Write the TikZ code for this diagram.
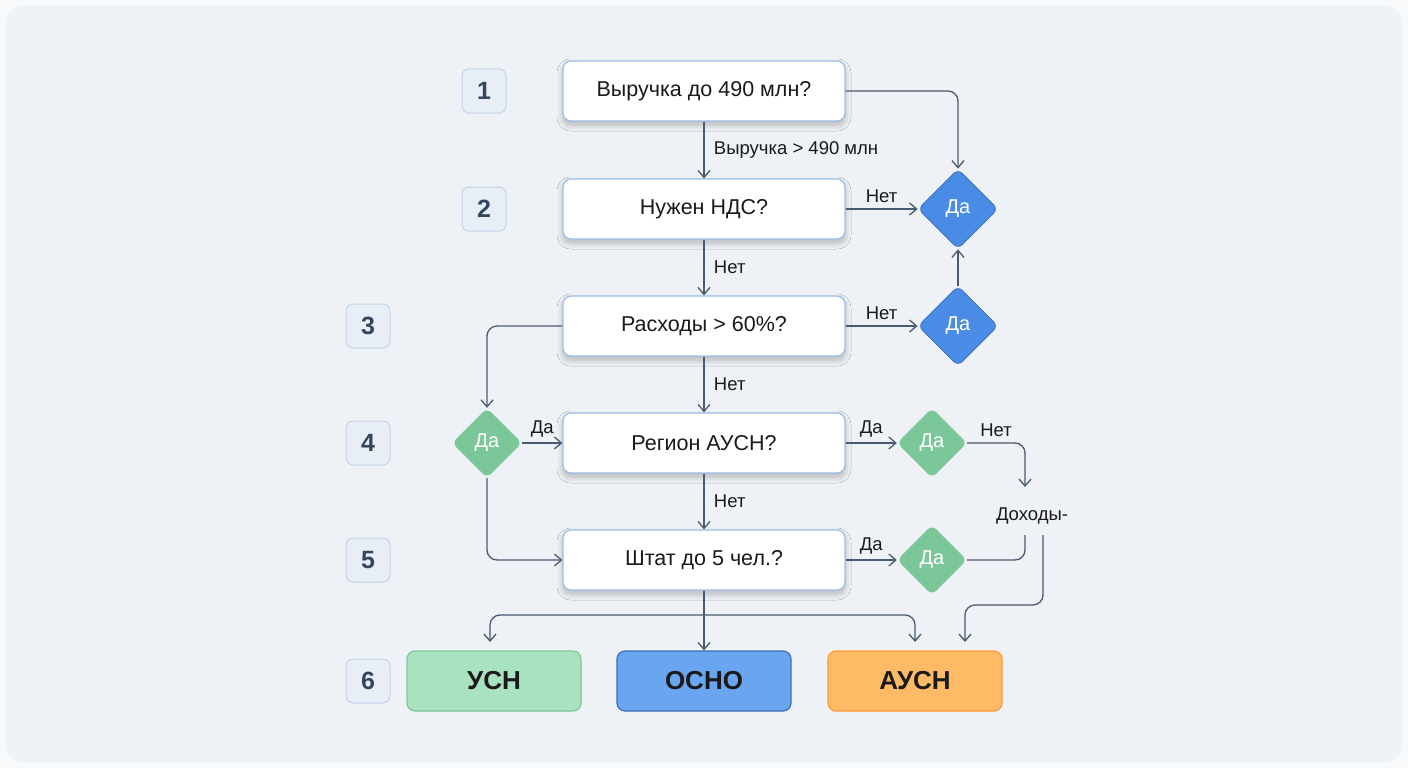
\documentclass[tikz,border=0pt]{standalone}
\usepackage{fontspec}
\setmainfont{Liberation Sans}
\usetikzlibrary{shapes.geometric,arrows.meta,shadows.blur}
\definecolor{bg}{HTML}{EEF1F5}
\definecolor{ln}{HTML}{4A5A70}
\definecolor{bb}{HTML}{9BBCE6}
\definecolor{bd}{HTML}{4A8BE6}
\definecolor{gd}{HTML}{7CC79A}
\definecolor{tx}{HTML}{1A1A1A}
\definecolor{badge}{HTML}{E8EEF6}
\definecolor{badgeb}{HTML}{C5D5EA}
\definecolor{num}{HTML}{34465E}
\definecolor{usn}{HTML}{A8E2BE}
\definecolor{osno}{HTML}{6AA5F0}
\definecolor{ausn}{HTML}{FFBA66}
\begin{document}
\begin{tikzpicture}[x=1pt,y=-1pt,
  box/.style={draw=bb,line width=1.2pt,fill=white,rounded corners=8pt,minimum width=282pt,minimum height=60pt,font=\fontsize{21.5}{24}\selectfont,text=tx,blur shadow={shadow blur steps=10,shadow xshift=0pt,shadow yshift=-4pt,shadow opacity=25,shadow blur radius=6pt}},
  num/.style={draw=badgeb,line width=1pt,fill=badge,rounded corners=7pt,minimum width=44pt,minimum height=44pt,font=\fontsize{25}{28}\selectfont\bfseries,text=num},
  bd/.style={diamond,draw=bd!80!black,line width=0.8pt,fill=bd,minimum width=80pt,minimum height=80pt,inner sep=0pt,rounded corners=6pt,font=\fontsize{20}{22}\selectfont,text=white},
  gdm/.style={diamond,fill=gd,minimum width=70pt,minimum height=70pt,inner sep=0pt,rounded corners=6pt,font=\fontsize{20}{22}\selectfont,text=white},
  res/.style={rounded corners=8pt,line width=1.2pt,minimum width=174pt,minimum height=60pt,font=\fontsize{26}{28}\selectfont\bfseries,text=tx},
  ar/.style={draw=ln,line width=1.3pt,-{Straight Barb[length=7pt,width=12pt]},rounded corners=10pt},
  pl/.style={draw=ln,line width=1.3pt,rounded corners=10pt},
  lb/.style={font=\fontsize{18.5}{20}\selectfont,text=tx}]
\useasboundingbox (0,0) rectangle (1408,768);
\fill[white!60!bg] (0,0) rectangle (1408,768);
\fill[bg,rounded corners=18pt] (6,6) rectangle (1402,762);
\node[num] (n1) at (484,91) {1};
\node[num] (n2) at (484,209) {2};
\node[num] (n3) at (368,326) {3};
\node[num] (n4) at (368,443) {4};
\node[num] (n5) at (368,560) {5};
\node[num] (n6) at (368,681) {6};
\node[box] (b1) at (704,91) {Выручка до 490 млн?};
\node[box] (b2) at (704,209) {Нужен НДС?};
\node[box] (b3) at (704,326) {Расходы > 60\%?};
\node[box] (b4) at (704,443) {Регион АУСН?};
\node[box] (b5) at (704,560) {Штат до 5 чел.?};
\node[bd] (d1) at (958,209) {Да};
\node[bd] (d2) at (958,326) {Да};
\node[gdm] (g1) at (487,443) {Да};
\node[gdm] (g2) at (932,443) {Да};
\node[gdm] (g3) at (932,560) {Да};
\node[res,fill=usn,draw=gd] (o1) at (494,681) {УСН};
\node[res,fill=osno,draw=bd!80!black] (o2) at (704,681) {ОСНО};
\node[res,fill=ausn,draw=orange!80] (o3) at (915,681) {АУСН};
\node[lb] (dox) at (1032,516) {Доходы-};
\coordinate (c1) at (1025,535);
\coordinate (c2) at (1043,535);
\coordinate (s) at (704,615);
\draw[ar] (b1.east) -| (d1.north);
\draw[ar] (b1.south) -- node[lb,right=6pt] {Выручка > 490 млн} (b2.north);
\draw[ar] (b2.east) -- node[lb,above=2pt] {Нет} (d1.west);
\draw[ar] (b2.south) -- node[lb,right=6pt] {Нет} (b3.north);
\draw[ar] (b3.east) -- node[lb,above=2pt] {Нет} (d2.west);
\draw[ar] (d2.north) -- (d1.south);
\draw[ar] (b3.south) -- node[lb,right=6pt] {Нет} (b4.north);
\draw[ar] (b4.south) -- node[lb,right=6pt] {Нет} (b5.north);
\draw[ar] (b3.west) -| (g1.north);
\draw[ar] (g1.east) -- node[lb,above=2pt] {Да} (b4.west);
\draw[ar] (g1.south) |- (b5.west);
\draw[ar] (b4.east) -- node[lb,above=2pt] {Да} (g2.west);
\draw[ar] (b5.east) -- node[lb,above=2pt] {Да} (g3.west);
\draw[ar] (g2.east) -- node[lb,above=2pt,pos=0.5] {Нет} (1025,443) -- (1025,487);
\draw[pl] (g3.east) -| (c1);
\draw[ar] (c2) |- (965,605) -- (965,642);
\draw[pl] (b5.south) -- (s);
\draw[ar] (s) -| (490,642);
\draw[ar] (s) -- (o2.north);
\draw[ar] (s) -| (915,642);
\end{tikzpicture}
\end{document}
